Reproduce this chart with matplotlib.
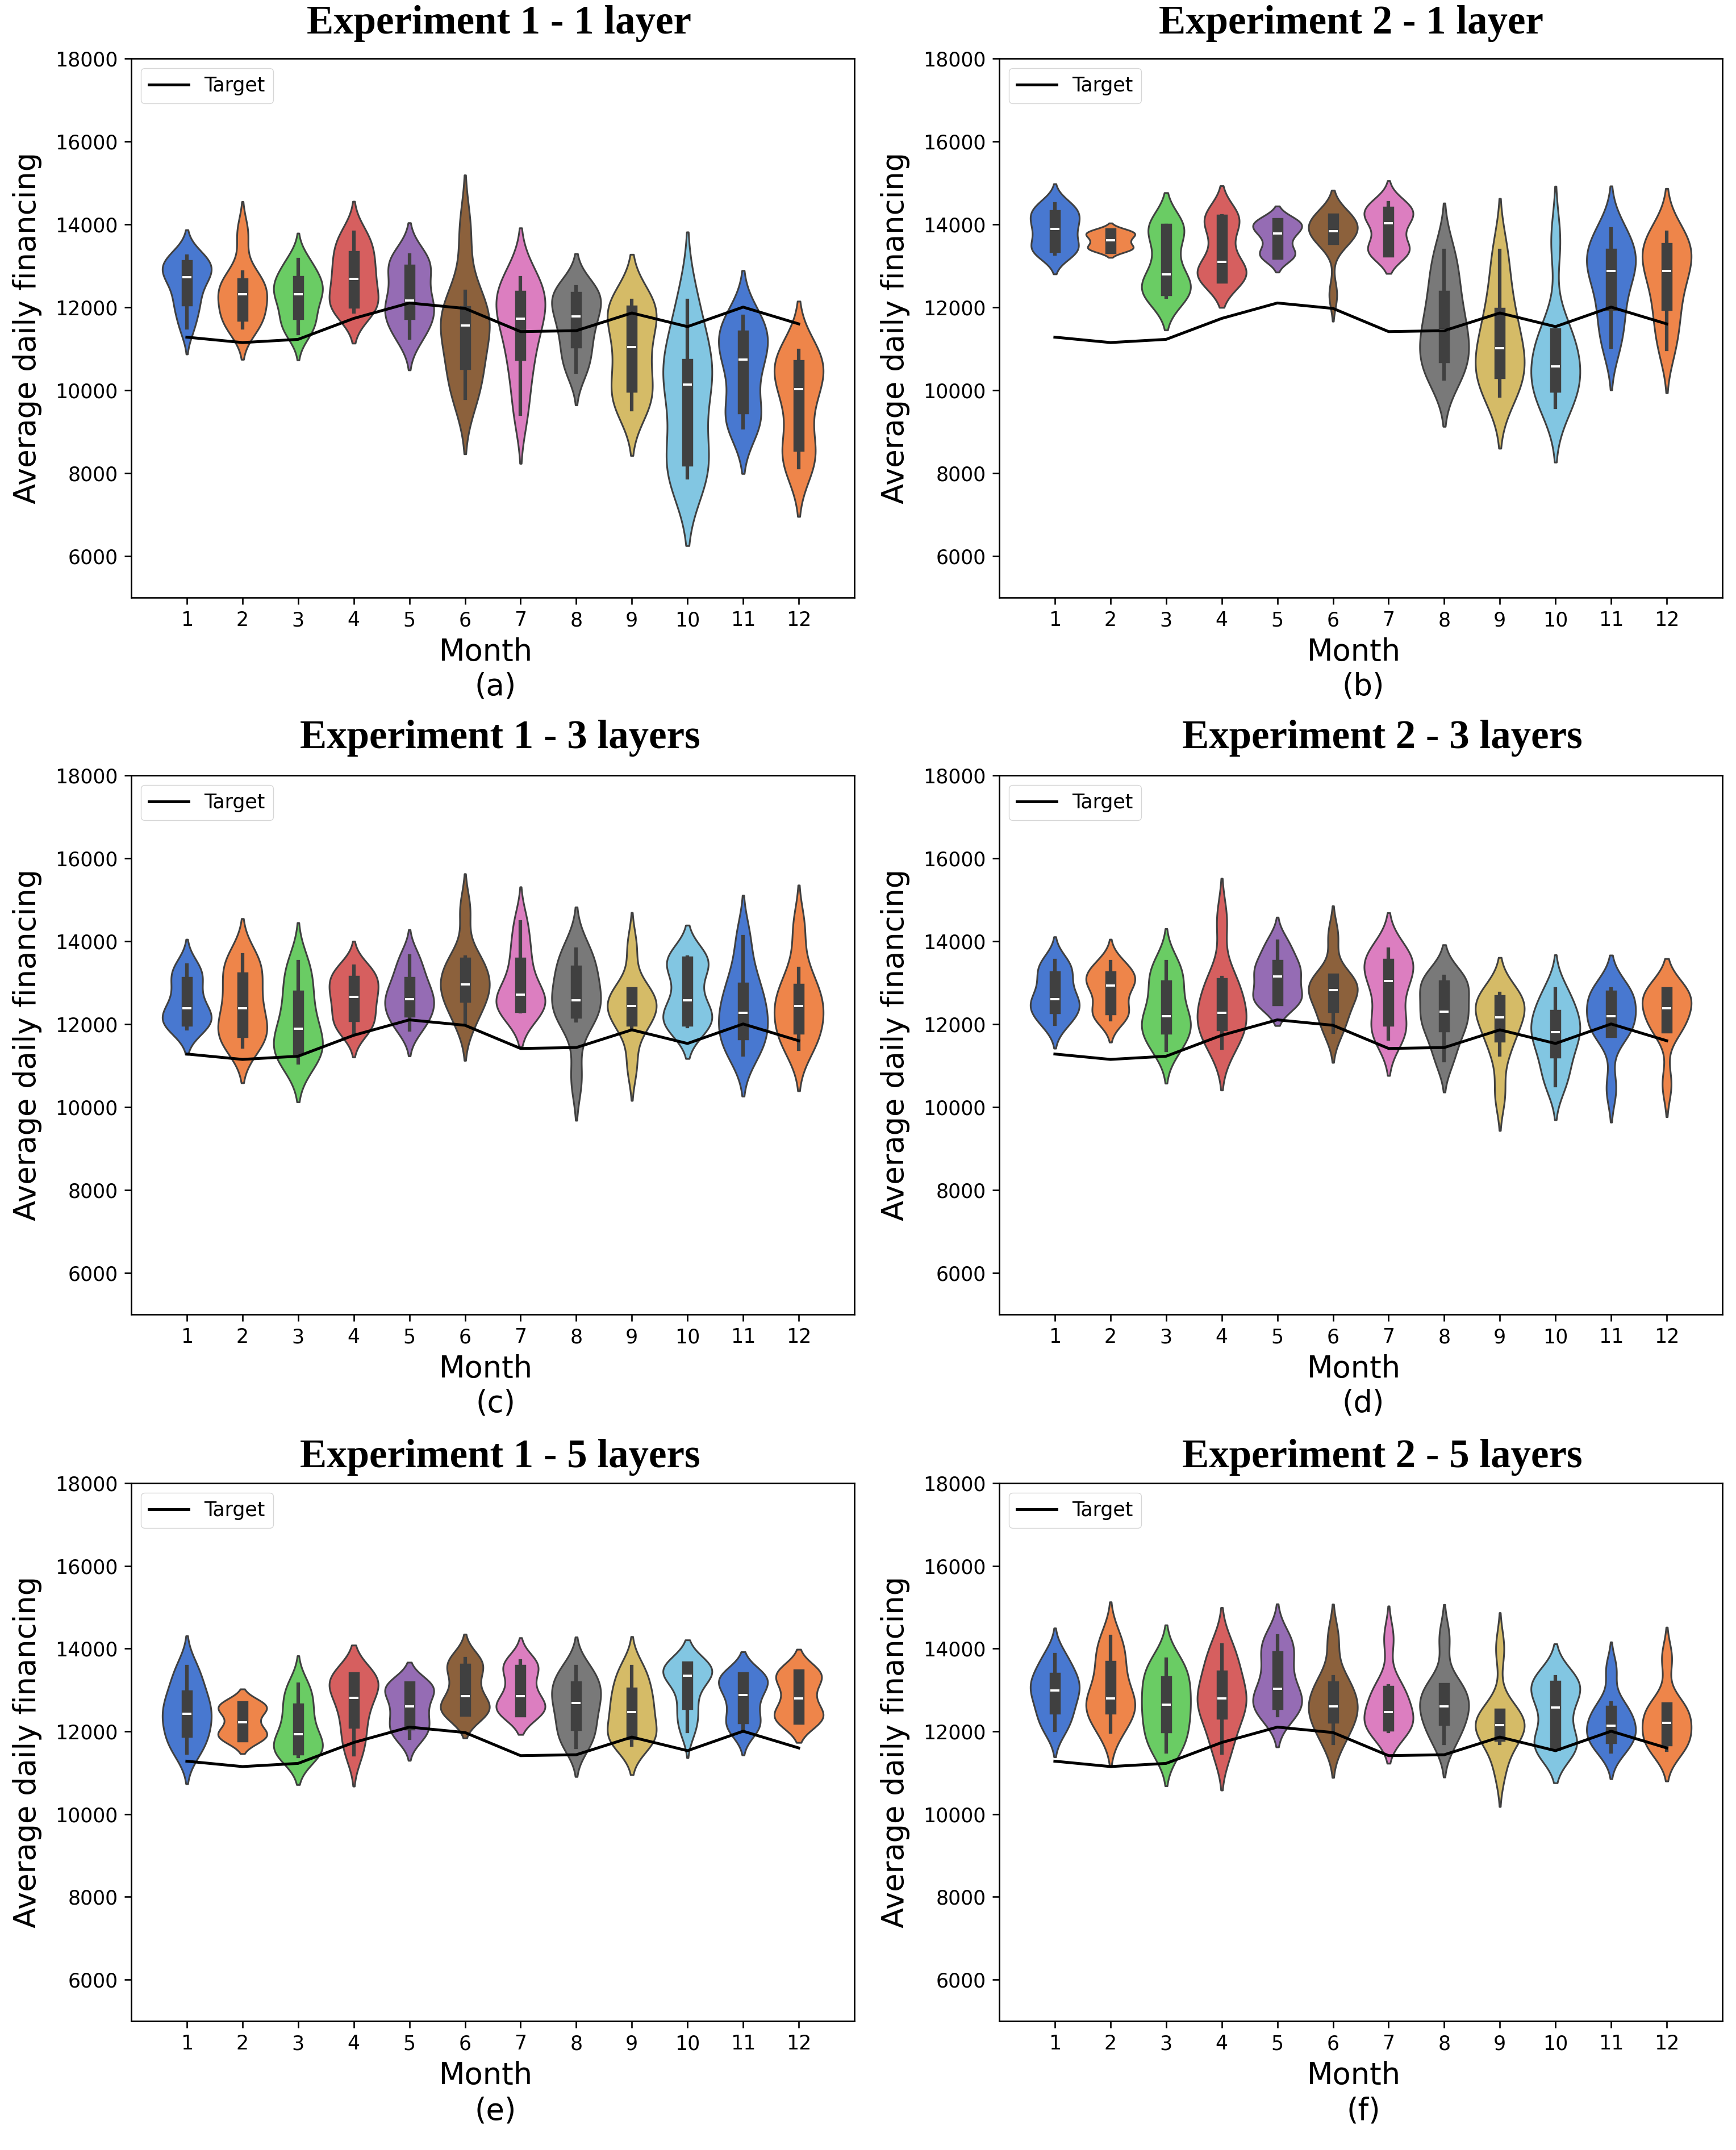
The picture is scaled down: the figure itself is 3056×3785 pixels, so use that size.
import numpy as np
import pandas as pd
import matplotlib
matplotlib.use("Agg")
import matplotlib.pyplot as plt
import seaborn as sns

# ---------------- data ----------------
months = [str(m) for m in range(1, 13)]
target = [11280, 11150, 11227, 11732, 12104, 11973, 11414, 11436, 11863, 11534, 12005, 11600]

exp1_1layer = [
    [11510, 11950, 12170, 12550, 12720, 12880, 13010, 13120, 13230],
    [11510, 11650, 11790, 12100, 12320, 12450, 12575, 12850, 13780],
    [11370, 11600, 11830, 12150, 12320, 12480, 12630, 12850, 13145],
    [11885, 12000, 12104, 12450, 12685, 12950, 13233, 13500, 13803],
    [11260, 11550, 11830, 12000, 12170, 12550, 12904, 13100, 13266],
    [9803, 10200, 10625, 11200, 11556, 11750, 11907, 12389, 13850],
    [9430, 10300, 10855, 11400, 11732, 12000, 12279, 12500, 12718],
    [10438, 10800, 11151, 11500, 11775, 12000, 12247, 12380, 12499],
    [9529, 9800, 10088, 10600, 11041, 11500, 11918, 12050, 12170],
    [7896, 8100, 8301, 9300, 10142, 10400, 10636, 11300, 12170],
    [9090, 9300, 9562, 10300, 10745, 11000, 11315, 11550, 11786],
    [8137, 8400, 8663, 9500, 10022, 10300, 10603, 10800, 10964],
]
exp2_1layer = [
    [13288, 13370, 13452, 13700, 13890, 14050, 14219, 14350, 14493],
    [13397, 13410, 13420, 13550, 13616, 13700, 13781, 13810, 13836],
    [12247, 12330, 12411, 12600, 12795, 13300, 13890, 13930, 13967],
    [12718, 12718, 12718, 12900, 13101, 13600, 14110, 14150, 14208],
    [13233, 13260, 13288, 13600, 13781, 13900, 14033, 14045, 14055],
    [12300, 13600, 13649, 13750, 13836, 14000, 14132, 14160, 14186],
    [13342, 13342, 13342, 13700, 14022, 14150, 14296, 14400, 14526],
    [10274, 10550, 10800, 11150, 11447, 11800, 12279, 12800, 13364],
    [9858, 10150, 10416, 10750, 11008, 11400, 11863, 12500, 13364],
    [9584, 9850, 10088, 10350, 10581, 10900, 11370, 11370, 13600],
    [11041, 11600, 12060, 12600, 12871, 13100, 13288, 13600, 13890],
    [10986, 11600, 12060, 12600, 12871, 13150, 13419, 13600, 13814],
]
exp1_3layers = [
    [11885, 11980, 12082, 12250, 12378, 12650, 13014, 13200, 13430],
    [11458, 11650, 11808, 12100, 12378, 12750, 13123, 13400, 13671],
    [11063, 11250, 11392, 11650, 11885, 12250, 12685, 13100, 13507],
    [11808, 12000, 12192, 12450, 12652, 12850, 13036, 13200, 13397],
    [11863, 12100, 12301, 12480, 12608, 12800, 13014, 13300, 13649],
    [12000, 12400, 12663, 12850, 12959, 13200, 13474, 13616, 14750],
    [12301, 12350, 12411, 12600, 12718, 13000, 13474, 13900, 14471],
    [10700, 12082, 12268, 12450, 12575, 12950, 13288, 13550, 13803],
    [11000, 11918, 12082, 12300, 12433, 12600, 12773, 12773, 13850],
    [11940, 12000, 12082, 12350, 12575, 13100, 13507, 13560, 13616],
    [11260, 11500, 11753, 12050, 12279, 12550, 12871, 13300, 14110],
    [11392, 11650, 11885, 12200, 12433, 12650, 12849, 13342, 14350],
]
exp2_3layers = [
    [11995, 12200, 12378, 12500, 12608, 12850, 13145, 13350, 13529],
    [12104, 12250, 12356, 12700, 12926, 13050, 13145, 13300, 13507],
    [11370, 11650, 11885, 12050, 12192, 12550, 12937, 13200, 13507],
    [11425, 11700, 11973, 12150, 12268, 12600, 12981, 13123, 14500],
    [12542, 12560, 12575, 12900, 13145, 13300, 13419, 13700, 14000],
    [11808, 12100, 12411, 12650, 12827, 12950, 13090, 13090, 14120],
    [11644, 11850, 12082, 12600, 13036, 13250, 13452, 13650, 13803],
    [11118, 11600, 11940, 12150, 12301, 12600, 12937, 13050, 13156],
    [10300, 11260, 11699, 11950, 12159, 12400, 12575, 12650, 12740],
    [10515, 10900, 11315, 11600, 11808, 12000, 12214, 12500, 12849],
    [10450, 11808, 11808, 12000, 12192, 12450, 12685, 12800, 12849],
    [10550, 11918, 11918, 12150, 12378, 12600, 12773, 12790, 12795],
]
exp1_5layers = [
    [11480, 11750, 11985, 12250, 12424, 12650, 12863, 13200, 13565],
    [11842, 11860, 11875, 12050, 12226, 12450, 12610, 12630, 12643],
    [11403, 11480, 11567, 11750, 11930, 12250, 12555, 12850, 13137],
    [11436, 11850, 12204, 12600, 12808, 13100, 13302, 13310, 13324],
    [11842, 12000, 12171, 12400, 12610, 12850, 13082, 13100, 13126],
    [12424, 12460, 12501, 12700, 12852, 13200, 13510, 13650, 13763],
    [12479, 12479, 12479, 12700, 12852, 13150, 13488, 13600, 13708],
    [11623, 11900, 12149, 12450, 12687, 12900, 13082, 13300, 13565],
    [11678, 11800, 11930, 12200, 12468, 12700, 12940, 13250, 13565],
    [12007, 12350, 12665, 13100, 13346, 13450, 13565, 13565, 13565],
    [12007, 12150, 12314, 12650, 12885, 13100, 13302, 13320, 13346],
    [12281, 12290, 12303, 12550, 12797, 13100, 13379, 13400, 13434],
]
exp2_5layers = [
    [12028, 12300, 12555, 12800, 12995, 13150, 13291, 13550, 13851],
    [11985, 12300, 12555, 12680, 12797, 13150, 13576, 13900, 14290],
    [11513, 11800, 12094, 12400, 12643, 12900, 13214, 13450, 13741],
    [11480, 12000, 12424, 12600, 12797, 13050, 13346, 13700, 14093],
    [12391, 12520, 12665, 12850, 13028, 13400, 13818, 14050, 14312],
    [11710, 12050, 12336, 12480, 12610, 12850, 13082, 13324, 14250],
    [12007, 12070, 12138, 12300, 12468, 12750, 12973, 13104, 14250],
    [11710, 12000, 12281, 12450, 12610, 12850, 13049, 13104, 14250],
    [11050, 11710, 11897, 12050, 12149, 12300, 12424, 12424, 14000],
    [11546, 11610, 11678, 12100, 12577, 12850, 13104, 13200, 13324],
    [11513, 11700, 11842, 12000, 12138, 12300, 12501, 12687, 13500],
    [11546, 11650, 11787, 12000, 12204, 12400, 12577, 12643, 13770],
]

titles = ["Experiment 1 - 1 layer", "Experiment 2 - 1 layer",
          "Experiment 1 - 3 layers", "Experiment 2 - 3 layers",
          "Experiment 1 - 5 layers", "Experiment 2 - 5 layers"]
captions = ["(a)", "(b)", "(c)", "(d)", "(e)", "(f)"]
panels = [exp1_1layer, exp2_1layer, exp1_3layers, exp2_3layers, exp1_5layers, exp2_5layers]
yticks = [6000, 8000, 10000, 12000, 14000, 16000, 18000]

# ---------------- style / layout ----------------
palette = dict(zip(months, sns.color_palette("muted", 12).as_hex()))
W, H = 3056, 3785
COLW = 1528
ax_top = [103, 1365, 2611]
ax_bot = [1052, 2314, 3558]
title_y = [41, 1300, 2565]
month_y = [1148, 2410, 3654]
cap_y = [1208, 2470, 3717]
title_x = [878, 850, 880, 905, 880, 905]

fig = plt.figure(figsize=(W / 100, H / 100), dpi=100)

def fx(px):
    return px / W

def fy(px):
    return 1 - px / H

for i, (vals, title, cap) in enumerate(zip(panels, titles, captions)):
    r, c = divmod(i, 2)
    x0 = c * COLW
    ax = fig.add_axes([fx(x0 + 231), fy(ax_bot[r]), 1273 / W, (ax_bot[r] - ax_top[r]) / H])
    df = pd.DataFrame({
        "month": np.repeat(months, [len(v) for v in vals]),
        "value": np.concatenate(vals),
    })
    sns.violinplot(data=df, x="month", y="value", hue="month", palette=palette,
                   legend=False, inner="box", density_norm="width", bw_adjust=0.85,
                   cut=2, width=0.88, linewidth=2.2, linecolor="#404040", saturation=1,
                   inner_kws=dict(box_width=14, whis_width=4.5), ax=ax)
    ax.plot(np.arange(len(months)), target, color="black", lw=3.6, label="Target", zorder=5)
    ax.set_xlim(-1, 12)
    ax.set_ylim(5000, 18000)
    ax.set_yticks(yticks)
    ax.set_xlabel("")
    ax.set_ylabel("")
    ax.tick_params(labelsize=25, length=8.4, width=1.9, pad=8.4)
    for s in ax.spines.values():
        s.set_linewidth(1.9)
        s.set_visible(True)
    ax.legend(loc="upper left", fontsize=25, handlelength=2.0)
    fig.text(fx(x0 + title_x[i]), fy(title_y[r]), title, ha="center", va="center",
             fontsize=51, fontweight="bold", family="Liberation Serif")
    fig.text(fx(x0 + 855), fy(month_y[r]), "Month", ha="center", va="center", fontsize=38)
    fig.text(fx(x0 + 872), fy(cap_y[r]), cap, ha="center", va="center", fontsize=38)
    fig.text(fx(x0 + 48), fy((ax_top[r] + ax_bot[r]) / 2), "Average daily financing",
             ha="center", va="center", rotation=90, fontsize=38)

fig.savefig("out.png", dpi=100)
